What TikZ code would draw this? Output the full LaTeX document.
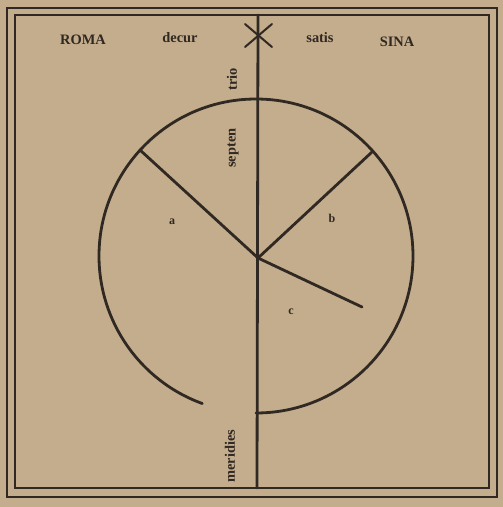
\documentclass[tikz,border=0pt]{standalone}
\usepackage{fontspec}
\setmainfont{Liberation Serif}
\usetikzlibrary{positioning, calc}
\definecolor{paper}{RGB}{196,173,140}
\definecolor{ink}{RGB}{48,40,34}

\begin{document}
\begin{tikzpicture}[
      x=1pt, y=-1pt,
      frame/.style={draw=ink, line width=2.4pt},
      rule/.style={draw=ink, line width=2.8pt, line cap=round},
      word/.style={font=\Large\bfseries, text=ink, inner sep=1pt},
      side/.style={word, rotate=90},
      letter/.style={font=\large\bfseries, text=ink, inner sep=1pt}
    ]

    \fill[paper] (0,0) rectangle (503,507);
    \draw[frame] (7,8) rectangle (497,497);
    \draw[frame] (15,15) rectangle (489,488);

    \coordinate (hub) at (258,258);
    \coordinate (north) at (258,15);
    \coordinate (south) at (257,488);
    \coordinate (nw) at (140,150);
    \coordinate (ne) at (372,152);
    \coordinate (se) at (362,307);
    \coordinate (center) at (256,256);

    % the circle, open at the bottom
    \draw[rule] ($(center)+(90:157)$) arc[start angle=90, end angle=-250, radius=157];

    % meridian and spokes
    \draw[rule] (north) -- (south);
    \draw[rule] (hub) -- (nw);
    \draw[rule] (hub) -- (ne);
    \draw[rule] (hub) -- (se);

    % cross at the top
    \coordinate (x1) at (245,24);
    \coordinate (x2) at (272,47);
    \coordinate (x3) at (272,24);
    \coordinate (x4) at (245,47);
    \draw[rule, line width=2pt] (x1) -- (x2);
    \draw[rule, line width=2pt] (x3) -- (x4);

    \node[word] (roma) at (83,40) {ROMA};
    \node[word] (decur) at (180,38) {decur};
    \node[word] (satis) at (320,38) {satis};
    \node[word] (sina) at (397,42) {SINA};

    \node[side] (trio) at (232,79) {trio};
    \node[side] (septen) at (233,148) {septen};
    \node[side] (meridies) at (230,456) {meridies};

    \node[letter] (a) at (172,222) {a};
    \node[letter] (b) at (332,218) {b};
    \node[letter] (c) at (291,312) {c};

  \end{tikzpicture}
\end{document}
